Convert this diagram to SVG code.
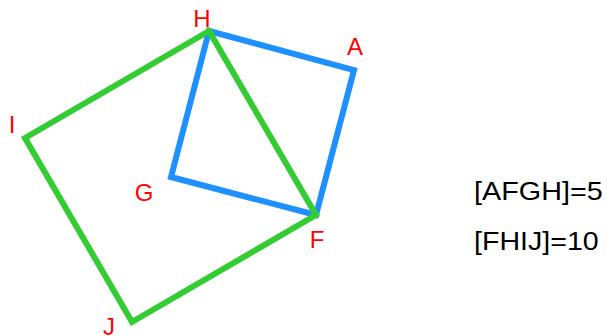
<svg xmlns="http://www.w3.org/2000/svg" width="607" height="336" viewBox="0 0 607 336">
<style>
.sq{fill:none;stroke-width:6;stroke-linejoin:miter}
.blue{stroke:#1E90FF}
.green{stroke:#33CC33}
.lbl{font-family:"Liberation Sans",Arial,sans-serif;font-size:24px;fill:#FF0000;text-anchor:middle}
.eq{font-family:"Liberation Sans",Arial,sans-serif;font-size:25px;fill:#000000}
</style>
<rect width="607" height="336" fill="#FFFFFF"/>
<g id="connectors">
<polygon id="AFGH" class="sq blue" points="209,31 354,70 316,215 171,177"/>
<polygon id="FHIJ" class="sq green" points="209,31 316,215 132,322 25,138"/>
</g>
<g id="labels">
<g id="H"><text class="lbl" x="202" y="27">H</text></g>
<g id="A"><text class="lbl" x="355" y="55">A</text></g>
<g id="I"><text class="lbl" x="12" y="133">I</text></g>
<g id="G"><text class="lbl" x="144" y="201">G</text></g>
<g id="F"><text class="lbl" x="317" y="248">F</text></g>
<g id="J"><text class="lbl" x="109" y="335">J</text></g>
</g>
<g id="areas">
<text class="eq" x="474" y="200" textLength="128.7" lengthAdjust="spacingAndGlyphs">[AFGH]=5</text>
<text class="eq" x="474" y="250" textLength="124.7" lengthAdjust="spacingAndGlyphs">[FHIJ]=10</text>
</g>
</svg>
